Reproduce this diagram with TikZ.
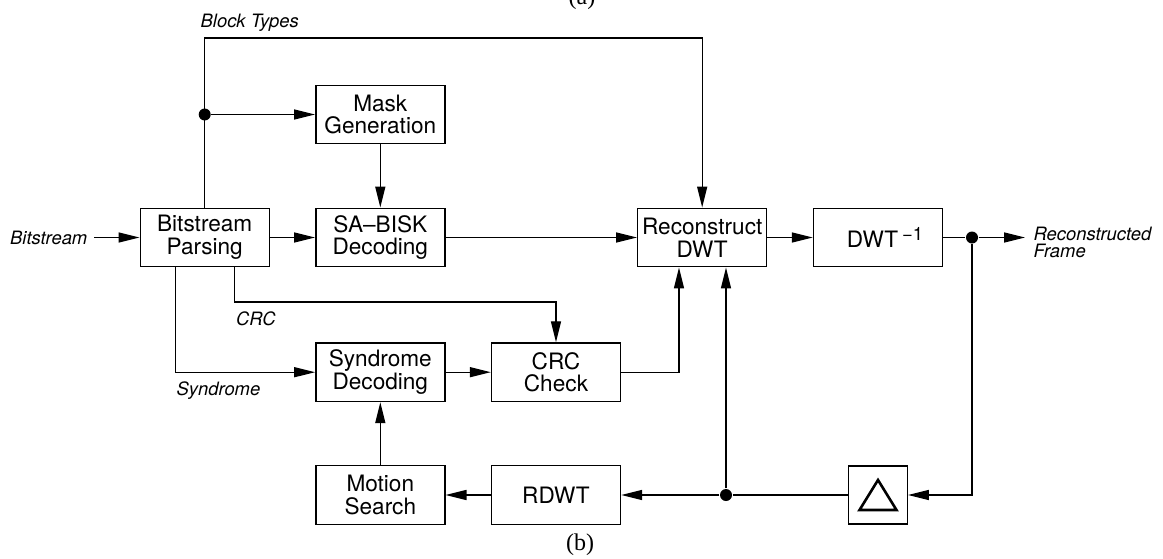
\documentclass[tikz,border=0pt]{standalone}
\usepackage{fontspec}
\setmainfont{Liberation Serif}
\setsansfont{TeX Gyre Heros}
\usetikzlibrary{arrows.meta}

\begin{document}
\begin{tikzpicture}[x=0.5pt, y=-0.5pt, line width=0.7pt, >={Triangle[length=10.5pt,width=5pt]}, block/.style={draw, rectangle, minimum width=64.5pt, minimum height=29.25pt, inner sep=1pt, align=center, font=\sffamily\fontsize{11.3}{11.3}\selectfont}, sig/.style={font=\sffamily\itshape\fontsize{9.2}{8.7}\selectfont, inner sep=0pt, align=left}, junction/.style={circle, fill, inner sep=0pt, minimum size=6pt}, caption/.style={font=\fontsize{12}{12}\selectfont, inner sep=0pt}]

\useasboundingbox (0,0) rectangle (1163,558);
\node[caption] (capa) at (582,-1) {(a)};
\node[caption] (capb) at (580,545) {(b)};

% blocks
\node[block] (parse) at (204.7,237.5) {Bitstream\\Parsing};
\node[block] (mask) at (380.3,114.5) {Mask\\Generation};
\node[block] (sabisk) at (380.3,237.5) {SA\textendash BISK\\Decoding};
\node[block] (recon) at (702.2,237.5) {Reconstruct\\DWT};
\node[block] (idwt) at (878,237.5) {\hspace*{7pt}DWT\kern2pt\raisebox{3.5pt}{\fontsize{9.2}{9.2}\selectfont\textminus1}};
\node[block] (synd) at (380.3,372.2) {Syndrome\\Decoding};
\node[block] (crc) at (556,372.2) {CRC\\Check};
\node[block] (motion) at (380.3,495) {Motion\\Search};
\node[block] (rdwt) at (556,495) {RDWT};
\node[block, minimum width=29.25pt, minimum height=29pt] (delta) at (878,495) {};
\draw[line width=1.3pt, line join=miter] (delta.center) ++(0,-15) -- ++(18.5,30) -- ++(-37,0) -- cycle;

% signal labels
\node[sig, anchor=east, inner xsep=3pt] (bsin) at (94,237.5) {Bitstream};
\node[sig, anchor=base west] (types) at (200,27) {Block Types};
\node[sig, anchor=base west] (crclab) at (235.5,325) {CRC};
\node[sig, anchor=base west] (syndlab) at (176,395.7) {Syndrome};
\node[sig, anchor=north west] (frame) at (1033,226) {Reconstructed\\Frame};

% junctions
\coordinate (top) at (702.2,38);
\node[junction] (j1) at (204.7,114.5) {};
\node[junction] (j2) at (972,237.5) {};
\node[junction] (j3) at (726,495) {};
\coordinate (loop) at (972,495);
\coordinate (crcturn) at (679,372.2);
\coordinate (crcdown) at (234.3,302);
\coordinate (out) at (1025,237.5);

% connectors
\draw[->] (bsin) -- (parse);
\draw[->] (parse) -- (sabisk);
\draw[->] (parse.north) -- (parse.north |- top) -- (top) -- (recon.north);
\draw[->] (j1) -- (mask);
\draw[->] (mask) -- (sabisk);
\draw[->] (sabisk) -- (recon);
\draw[->] (recon) -- (idwt);
\draw[->] (idwt) -- (j2) -- (out);
\draw[->] (j2) -- (loop) -- (delta.east);
\draw[->] (delta.west) -- (j3) -- (rdwt.east);
\draw[->] (j3) -- (j3 |- recon.south);
\draw[->] (crc.east) -- (crcturn) -- (crcturn |- recon.south);
\draw[->] (rdwt) -- (motion);
\draw[->] (motion) -- (synd);
\draw[->] (synd) -- (crc);
\draw[->] ([xshift=-14.5pt]parse.south) |- (synd.west);
\draw[->] (crcdown |- parse.south) -- (crcdown) -| (crc.north);
\end{tikzpicture}
\end{document}
